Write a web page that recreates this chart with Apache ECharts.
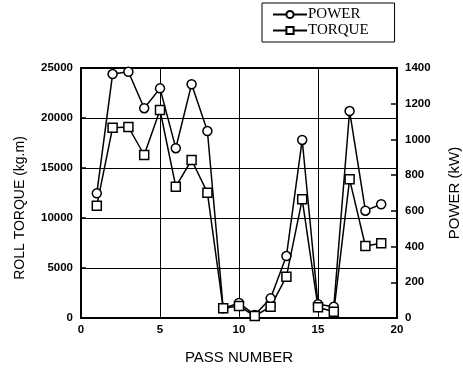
<!DOCTYPE html>
<html>
<head>
<meta charset="utf-8">
<script src="https://cdn.jsdelivr.net/npm/echarts@6/dist/echarts.min.js"></script>
<style>
  html, body { margin: 0; padding: 0; background: #fff; }
  #chart { width: 463px; height: 374px; }
</style>
</head>
<body>
<div id="chart"></div>
<script>
// pass numbers 1..19
const passNumbers = [1, 2, 3, 4, 5, 6, 7, 8, 9, 10, 11, 12, 13, 14, 15, 16, 17, 18, 19];
// roll power (kW), right axis
const powerKW = [698, 1366, 1379, 1175, 1286, 951, 1309, 1047, 54, 84, 17, 110, 347, 997, 77, 63, 1159, 601, 637];
// roll torque (kg.m), left axis
const torqueKgm = [11230, 19030, 19100, 16300, 20800, 13130, 15800, 12530, 970, 1200, 200, 1130, 4130, 11870, 1070, 630, 13870, 7200, 7470];

const toPairs = (xs, ys) => xs.map((x, i) => [x, ys[i]]);
const plain = (v) => String(v);

const labelFont = {
  color: "#000",
  fontFamily: "Liberation Sans, Arial, sans-serif",
  fontWeight: "bold",
  fontSize: 11.5,
  formatter: plain,
};
const nameFont = {
  color: "#000",
  fontFamily: "Liberation Sans, Arial, sans-serif",
  fontSize: 14,
};

const chart = echarts.init(document.getElementById("chart"), null, { renderer: "canvas" });

const options = {
  animation: false,
  backgroundColor: "#fff",
  legend: {
    orient: "vertical",
    left: 262,
    top: 3,
    padding: [4, 26, 4, 10],
    itemGap: 1,
    itemWidth: 34,
    itemHeight: 9,
    borderColor: "#000",
    borderWidth: 1,
    textStyle: {
      color: "#000",
      fontFamily: "Liberation Serif, Times New Roman, serif",
      fontSize: 15,
      padding: [0, 0, 0, -4],
    },
    data: ["POWER", "TORQUE"],
  },
  grid: {
    left: 81,
    right: 66,
    top: 68,
    bottom: 56,
    outerBoundsMode: "none",
    show: true,
    borderColor: "#000",
    borderWidth: 2,
  },
  xAxis: {
    type: "value",
    min: 0,
    max: 20,
    interval: 5,
    name: "PASS NUMBER",
    nameLocation: "middle",
    nameGap: 32,
    nameTextStyle: { ...nameFont, fontSize: 15 },
    axisLine: { show: true, lineStyle: { color: "#000", width: 2 } },
    axisTick: { show: false },
    axisLabel: { ...labelFont, margin: 6 },
    splitLine: { show: true, lineStyle: { color: "#000", width: 1 } },
  },
  yAxis: [
    {
      type: "value",
      position: "left",
      min: 0,
      max: 25000,
      interval: 5000,
      name: "ROLL TORQUE (kg.m)",
      nameLocation: "middle",
      nameGap: 54,
      nameTextStyle: { ...nameFont, padding: [0, 30, 0, 0] },
      axisLine: { show: true, lineStyle: { color: "#000", width: 2 } },
      axisTick: { show: true, inside: true, length: 5, lineStyle: { color: "#000", width: 1.5 } },
      axisLabel: { ...labelFont, margin: 8 },
      splitLine: { show: true, lineStyle: { color: "#000", width: 1 } },
    },
    {
      type: "value",
      position: "right",
      min: 0,
      max: 1400,
      interval: 200,
      name: "POWER (kW)",
      nameLocation: "middle",
      nameGap: 50,
      nameTextStyle: { ...nameFont, fontSize: 15 },
      axisLine: { show: true, lineStyle: { color: "#000", width: 2 } },
      axisTick: { show: true, inside: true, length: 6, lineStyle: { color: "#000", width: 1.5 } },
      axisLabel: { ...labelFont, margin: 8 },
      splitLine: { show: false },
    },
  ],
  series: [
    {
      name: "POWER",
      type: "line",
      yAxisIndex: 1,
      data: toPairs(passNumbers, powerKW),
      symbol: "circle",
      symbolSize: 9,
      lineStyle: { color: "#000", width: 1.5 },
      itemStyle: { color: "#fff", borderColor: "#000", borderWidth: 1.5 },
      z: 3,
    },
    {
      name: "TORQUE",
      type: "line",
      yAxisIndex: 0,
      data: toPairs(passNumbers, torqueKgm),
      symbol: "rect",
      symbolSize: 9,
      lineStyle: { color: "#000", width: 1.5 },
      itemStyle: { color: "#fff", borderColor: "#000", borderWidth: 1.5 },
      z: 3,
    },
  ],
};

chart.setOption(options);
</script>
</body>
</html>
